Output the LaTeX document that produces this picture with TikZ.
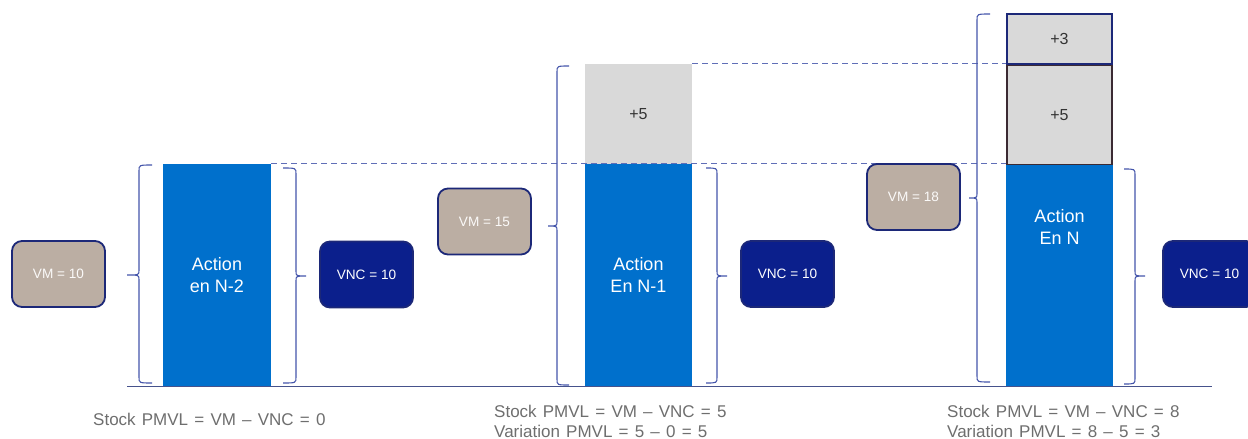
\documentclass[tikz,border=0pt]{standalone}
\usepackage{fontspec}
\setmainfont{Liberation Sans}
\definecolor{barblue}{HTML}{0070CC}
\definecolor{addgray}{HTML}{D9D9D9}
\definecolor{vmfill}{HTML}{BBAEA3}
\definecolor{vncfill}{HTML}{0B1F8C}
\definecolor{navyedge}{HTML}{1C2878}
\definecolor{braceblue}{HTML}{4455AA}
\definecolor{axisblue}{HTML}{46528C}
\definecolor{notegray}{HTML}{6E6E6E}
\definecolor{plumedge}{HTML}{3B2A33}
% slightly wider word spacing for the notes under the columns
\newcommand{\widespaces}{\spaceskip=6.2pt plus 1pt\relax}
\tikzset{
  bar/.style={rectangle, fill=barblue, inner sep=0pt, text=white, align=center,
    font=\fontsize{18}{22.5}\selectfont},
  addbox/.style={rectangle, fill=addgray, inner sep=0pt, text=black!80,
    font=\fontsize{16}{19}\selectfont},
  vmbox/.style={rectangle, rounded corners=10pt, fill=vmfill, draw=navyedge,
    line width=1.8pt, minimum width=93pt, minimum height=66pt, text=white!94!vmfill,
    font=\fontsize{13.6}{15}\selectfont},
  vncbox/.style={vmbox, fill=vncfill, text=white},
  bracket/.style={draw=braceblue, line width=1.1pt},
  level/.style={draw=braceblue!85, line width=0.9pt, dash pattern=on 6pt off 4pt},
  note/.style={anchor=west, align=left, text=notegray, inner sep=0pt,
    font=\fontsize{17}{20}\selectfont},
}
% left-opening bracket: spine at #1, ends at #2, tip at #3, from #4 to #5, tip height #6
\newcommand{\lbrk}[6]{%
  \draw[bracket] (#2,#4) .. controls (#1,#4) .. (#1,#4+6) -- (#1,#6-5)
    .. controls (#1,#6) .. (#3,#6) .. controls (#1,#6) .. (#1,#6+5)
    -- (#1,#5-6) .. controls (#1,#5) .. (#2,#5);}
\begin{document}
\begin{tikzpicture}[x=1pt, y=-1pt]
\useasboundingbox (0,0) rectangle (1248,439);
\begin{scope}
\clip (0,0) rectangle (1248,439);

% columns
\node[bar, minimum width=108pt, minimum height=222pt] (bar1) at (217,275) {Action\\en N-2};
\node[bar, minimum width=107pt, minimum height=222pt] (bar2) at (638.5,275) {Action\\En N-1};
\node[addbox, minimum width=107pt, minimum height=100pt] (add2) at (638.5,114) {+5};
\node[bar, minimum width=107pt, minimum height=221pt] (bar3) at (1059.5,275.5) {};
\node[bar] (bar3text) at (1059.5,227) {Action\\En N};
\node[addbox, draw=plumedge, line width=1.6pt, minimum width=105.5pt, minimum height=99pt] (add3a) at (1059.5,115) {+5};
\node[addbox, draw=navyedge, line width=1.6pt, minimum width=105.5pt, minimum height=50pt] (add3b) at (1059.5,39) {+3};

% level guides
\draw[level] (bar1.north east) -- (bar1.north east -| bar3.west);
\draw[level] (add2.north east) -- (add2.north east -| add3a.west);

% ground line
\coordinate (g0) at (127,386.5);
\coordinate (g1) at (1212,386.5);
\draw[axisblue, line width=1.3pt] (g0) -- (g1);

% value boxes
\node[vmbox] (vm1) at (58.5,274) {VM = 10};
\node[vncbox] (vnc1) at (366.5,274.5) {VNC = 10};
\node[vmbox] (vm2) at (484.5,221.5) {VM = 15};
\node[vncbox] (vnc2) at (787.5,274) {VNC = 10};
\node[vmbox] (vm3) at (913.5,197) {VM = 18};
\node[vncbox] (vnc3) at (1209.5,274) {VNC = 10};

% brackets
\lbrk{139}{152}{127}{165}{383}{275}
\lbrk{296}{283}{306}{168}{383}{276}
\lbrk{557}{569}{548}{66}{385}{226}
\lbrk{717}{706}{727}{168}{383}{276}
\lbrk{977}{990}{969}{14}{382}{198}
\lbrk{1135}{1124}{1145}{169}{384}{276}

% notes
\node[note] (n1) at (93,419) {\widespaces Stock PMVL = VM -- VNC = 0};
\node[note] (n2) at (494,421) {\widespaces Stock PMVL = VM -- VNC = 5\\\widespaces Variation PMVL = 5 -- 0 = 5};
\node[note] (n3) at (947,421) {\widespaces Stock PMVL = VM -- VNC = 8\\\widespaces Variation PMVL = 8 -- 5 = 3};
\end{scope}
\end{tikzpicture}
\end{document}
